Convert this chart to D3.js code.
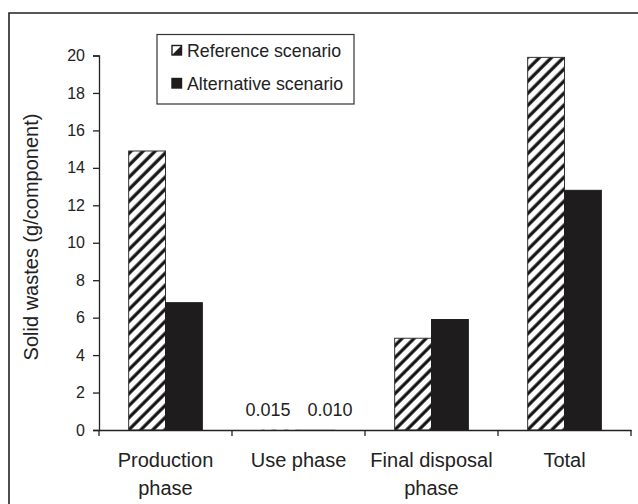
<!DOCTYPE html>
<html>
<head>
<meta charset="utf-8">
<script src="https://cdn.jsdelivr.net/npm/d3@7"></script>
<style>
  body { margin: 0; background: #fff; }
  svg { display: block; font-family: "Liberation Sans", Arial, sans-serif; }
</style>
</head>
<body>
<svg id="chart"></svg>
<script>
// data
let categories = [["Production", "phase"], ["Use phase"], ["Final disposal", "phase"], ["Total"]]
let series = ["Reference scenario", "Alternative scenario"]
let referenceValues = [14.9, 0.015, 4.9, 19.9]
let alternativeValues = [6.8, 0.010, 5.9, 12.8]
let useLabels = ["0.015", "0.010"]
let yTicks = [0, 2, 4, 6, 8, 10, 12, 14, 16, 18, 20]

let width = 638
let height = 504

let svg = d3.select("#chart")
svg.attr("width", width).attr("height", height)

// hatch pattern for the reference bars
let defs = svg.append("defs")
defs.append("pattern")
    .attr("id", "hatch")
    .attr("patternUnits", "userSpaceOnUse")
    .attr("width", 8.5)
    .attr("height", 8.5)
    .attr("patternTransform", "rotate(45)")
  .call(p => {
      p.append("rect").attr("width", 8.5).attr("height", 8.5).attr("fill", "#fff")
      p.append("line").attr("x1", 2).attr("x2", 2).attr("y1", 0).attr("y2", 8.5)
       .attr("stroke", "#111").attr("stroke-width", 3.2)
  })

// outer frame (left and top only are visible)
svg.append("path")
   .attr("d", "M9,504 L9,13 L638,13")
   .attr("fill", "none")
   .attr("stroke", "#222")
   .attr("stroke-width", 1.6)

let keys = categories.map((d, i) => i)

let X = d3.scaleBand()
          .domain(keys)
          .range([99, 631])
          .paddingInner(0)
          .paddingOuter(0)

let bw = X.bandwidth()
let X1 = d3.scaleBand()
           .domain(series)
           .range([bw * 0.223, bw * 0.777])

let Y = d3.scaleLinear()
          .domain([0, 20])
          .range([430, 55.5])

// Y axis
let yaxis = d3.axisLeft(Y).tickValues(yTicks).tickSize(6).tickPadding(8)
let gy = svg.append("g")
   .attr("transform", "translate(99,0)")
   .call(yaxis)
gy.select(".domain").attr("stroke", "#222").attr("stroke-width", 1.3)
gy.selectAll(".tick line").attr("stroke", "#222").attr("stroke-width", 1.3)
gy.selectAll(".tick text")
  .attr("font-size", 16)
  .attr("font-family", "Liberation Sans, Arial, sans-serif")
  .attr("fill", "#222")

svg.append("text")
   .attr("transform", "rotate(-90)")
   .attr("x", -237)
   .attr("y", 38)
   .attr("text-anchor", "middle")
   .attr("font-size", 20)
   .attr("fill", "#222")
   .text("Solid wastes (g/component)")

// bars
let rows = keys.map(i => [referenceValues[i], alternativeValues[i]])
let groups = svg.append("g")
   .selectAll("g")
   .data(rows)
   .enter()
   .append("g")
   .attr("transform", (d, i) => "translate(" + X(i) + ",0)")

groups.selectAll("rect")
      .data(d => d.map((v, j) => ({ key: series[j], value: v })))
      .enter()
      .append("rect")
      .attr("x", d => X1(d.key))
      .attr("width", X1.bandwidth())
      .attr("y", d => Y(d.value))
      .attr("height", d => Y(0) - Y(d.value))
      .attr("fill", d => d.key === series[0] ? "url(#hatch)" : "#1e1c1c")
      .attr("stroke", d => (Y(0) - Y(d.value)) < 1 ? "none" : (d.key === series[0] ? "#333" : "#1e1c1c"))
      .attr("stroke-width", 1)

// labels for the tiny use-phase values
let labelShift = [-12, 13]
svg.append("g")
   .selectAll("text")
   .data(useLabels)
   .enter()
   .append("text")
   .attr("x", (d, j) => X(1) + X1(series[j]) + X1.bandwidth() / 2 + labelShift[j])
   .attr("y", 416)
   .attr("text-anchor", "middle")
   .attr("font-size", 18)
   .attr("fill", "#222")
   .text(d => d)

// X axis
let xaxis = d3.axisBottom(X).tickSize(0).tickFormat("")
let gx = svg.append("g")
   .attr("transform", "translate(0,430)")
   .call(xaxis)
gx.select(".domain").attr("stroke", "#222").attr("stroke-width", 1.3)

// category boundary ticks
let bounds = keys.map(i => X(i)).concat([X(keys.length - 1) + bw])
svg.append("g")
   .selectAll("line")
   .data(bounds)
   .enter()
   .append("line")
   .attr("x1", d => d).attr("x2", d => d)
   .attr("y1", 430).attr("y2", 436)
   .attr("stroke", "#222")
   .attr("stroke-width", 1.3)

// category labels
let catText = svg.append("g")
   .selectAll("text")
   .data(categories)
   .enter()
   .append("text")
   .attr("x", (d, i) => X(i) + bw / 2)
   .attr("y", 466.5)
   .attr("text-anchor", "middle")
   .attr("font-size", 20)
   .attr("fill", "#222")
catText.selectAll("tspan")
   .data(d => d)
   .enter()
   .append("tspan")
   .attr("x", function () { return d3.select(this.parentNode).attr("x") })
   .attr("dy", (d, j) => j === 0 ? 0 : 28.5)
   .text(d => d)

// legend
let legend = svg.append("g")
legend.append("rect")
      .attr("x", 157).attr("y", 34.5)
      .attr("width", 197).attr("height", 69.5)
      .attr("fill", "#fff")
      .attr("stroke", "#333")
      .attr("stroke-width", 1.2)

let legendY = [57, 90]
let items = legend.selectAll("g")
      .data(series)
      .enter()
      .append("g")

items.append("rect")
     .attr("x", 172)
     .attr("y", (d, j) => legendY[j] - 11.5)
     .attr("width", 9.5)
     .attr("height", 9.5)
     .attr("fill", (d, j) => j === 0 ? "#fff" : "#1e1c1c")
     .attr("stroke", "#1e1c1c")
     .attr("stroke-width", 1.4)

items.filter((d, j) => j === 0)
     .append("path")
     .attr("d", (d, j) => {
         let x0 = 172, y0 = legendY[0] - 11.5, s = 9.5
         return "M" + (x0 + s) + "," + y0 + " L" + (x0 + s) + "," + (y0 + s) + " L" + x0 + "," + (y0 + s) + " Z"
     })
     .attr("fill", "#1e1c1c")

items.append("text")
     .attr("x", 187)
     .attr("y", (d, j) => legendY[j])
     .attr("font-size", 17.8)
     .attr("fill", "#222")
     .text(d => d)
</script>
</body>
</html>
